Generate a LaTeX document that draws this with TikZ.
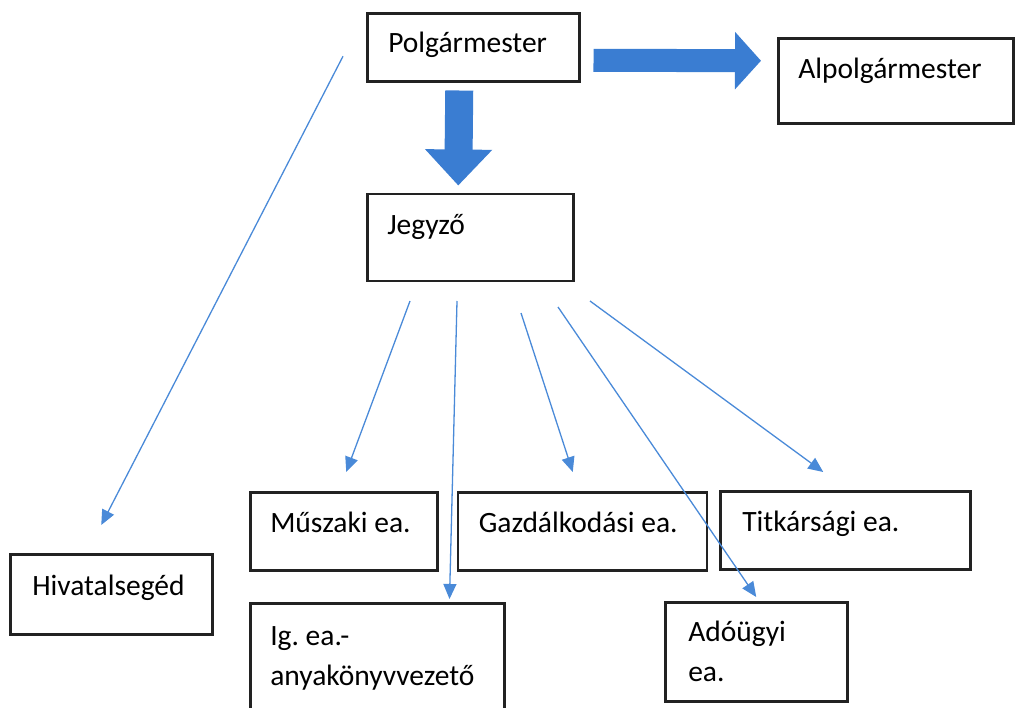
\documentclass[tikz,border=0pt]{standalone}
\usepackage{fontspec}
\setmainfont{Carlito}
\usepackage{tikz}
\usetikzlibrary{arrows.meta, positioning, calc}
\definecolor{fatblue}{HTML}{3A7DD2}
\definecolor{thinblue}{HTML}{4A8AD8}
\definecolor{boxline}{HTML}{222222}
\frenchspacing

\begin{document}
\begin{tikzpicture}[
  x=1pt, y=-1pt,
  box/.style={rectangle, draw=boxline, line width=2.5pt, fill=white, anchor=north west, align=left, inner ysep=2pt, font=\fontsize{29.5}{40}\selectfont, execute at begin node={\spaceskip=0pt\xspaceskip=0pt}},
  fat/.style={line width=#1, color=fatblue},
  arr/.style={-{Triangle[length=15pt, width=13pt]}, line width=1.3pt, color=thinblue}
]
\useasboundingbox (0,0) rectangle (1019,707);

% Leaders
\node[box, inner xsep=21pt, text width=170pt, minimum height=68pt, text depth=10.5pt] (polg) at (366,12) {Polgármester};
\node[box, inner xsep=20pt, text width=195pt, minimum height=85pt, text depth=25.5pt] (alpolg) at (777,37) {Alpolgármester};
\node[box, below=110pt of polg.south west, anchor=north west, inner xsep=20pt, text width=166pt, minimum height=87pt, text depth=25.5pt] (jegyzo) {Jegyző};

\draw[fat=23pt, -{Triangle[length=26pt, width=56pt]}] ([shift={(13,13)}]polg.east) -- ([shift={(-16,-20)}]alpolg.west);
\draw[fat=28pt, -{Triangle[length=36pt, width=65pt]}] ([shift={(-14,8)}]polg.south) -- ([shift={(-12,-7)}]jegyzo.north);

% Departments
\node[box, inner xsep=22pt, text width=158pt, minimum height=80pt, text depth=18.5pt] (hivatal) at (9,553) {Hivatalsegéd};
\node[box, inner xsep=20pt, text width=147pt, minimum height=78pt, text depth=18.5pt] (muszaki) at (249,491) {Műszaki ea.};
\node[box, right=18pt of muszaki, inner xsep=21pt, text width=207pt, minimum height=78pt, text depth=18.5pt] (gazd) {Gazdálkodási ea.};
\node[box, inner xsep=22pt, text width=206pt, minimum height=78pt, text depth=18.5pt] (titk) at (719,490) {Titkársági ea.};
\node[box, inner xsep=20pt, text width=214pt, minimum height=110pt] (ig) at (249,602) {Ig. ea.-\\anyakönyvvezető};
\node[box, inner xsep=23pt, text width=136pt, minimum height=99pt] (ado) at (664,601) {Adóügyi\\ea.};

\draw[arr] ([shift={(-23,9)}]polg.west) -- ([shift={(-10,-28)}]hivatal.north);
\draw[arr] ([shift={(44,19)}]jegyzo.south west) -- ([shift={(2.5,-19)}]muszaki.north);
\draw[arr] ([shift={(91,19)}]jegyzo.south west) -- ([shift={(-56,-3)}]ig.north east);
\draw[arr] ([shift={(155,31)}]jegyzo.south west) -- ([shift={(-9.5,-19)}]gazd.north);
\draw[arr] ([shift={(192,25)}]jegyzo.south west) -- ([shift={(0,-4)}]ado.north);
\draw[arr] ([shift={(224,19)}]jegyzo.south west) -- ([shift={(-22,-18)}]titk.north);

\end{tikzpicture}
\end{document}
